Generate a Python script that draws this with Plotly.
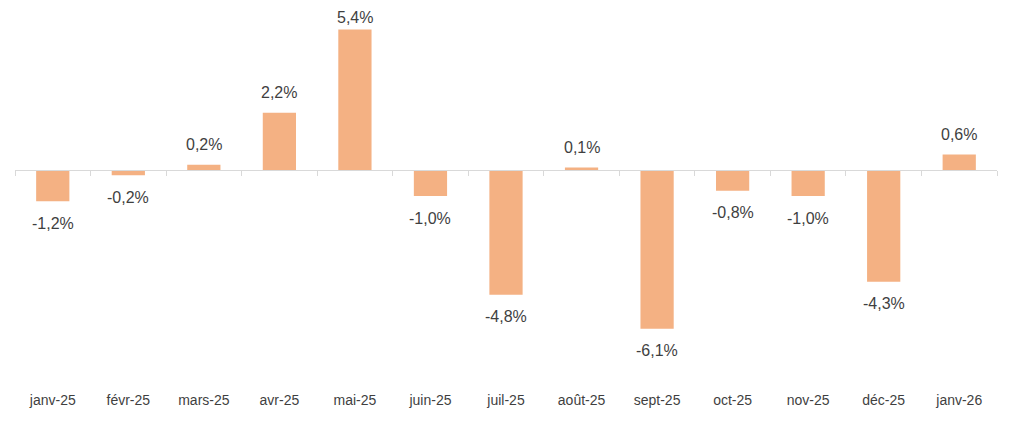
import plotly.graph_objects as go

months = ["janv-25", "févr-25", "mars-25", "avr-25", "mai-25", "juin-25", "juil-25",
          "août-25", "sept-25", "oct-25", "nov-25", "déc-25", "janv-26"]
values = [-1.2, -0.2, 0.2, 2.2, 5.4, -1.0, -4.8, 0.1, -6.1, -0.8, -1.0, -4.3, 0.6]
labels = [f"{v:.1f}%".replace(".", ",") for v in values]

BAR = "#F4B183"
TXT = "#3F3F3F"
FONT = "Liberation Sans, Arial, sans-serif"

ymin, ymax = -8.46, 5.77
H, T, B = 432, 12, 50
plot_h = H - T - B

fig = go.Figure()
fig.add_trace(go.Bar(x=months, y=values, marker_color=BAR, marker_line_width=0,
                     hoverinfo="skip"))
# invisible helper trace for the boundary-tick axis at zero
fig.add_trace(go.Scatter(x=months, y=[0] * len(months), xaxis="x2", mode="markers",
                         marker=dict(opacity=0), hoverinfo="skip", showlegend=False))

annotations = []
for m, v, t in zip(months, values, labels):
    if v >= 0:
        px_top = (ymax - v) / (ymax - ymin) * plot_h
        shift = min(20, px_top + T - 10)
    else:
        shift = -22
    annotations.append(dict(x=m, y=v, text=t, showarrow=False, yshift=shift,
                            yanchor="middle", xanchor="center", borderpad=0,
                            font=dict(size=16, color=TXT, family=FONT)))

zero_pos = (0 - ymin) / (ymax - ymin)

fig.update_layout(
    width=1024, height=H,
    margin=dict(l=7, r=35, t=T, b=B),
    paper_bgcolor="white", plot_bgcolor="white",
    showlegend=False,
    bargap=0.56,
    font=dict(family=FONT, color=TXT),
    annotations=annotations,
    xaxis=dict(type="category", categoryorder="array", categoryarray=months,
               range=[-0.5, len(months) - 0.5],
               showline=False, ticks="", showgrid=False, zeroline=False,
               tickfont=dict(size=14, color=TXT, family=FONT)),
    xaxis2=dict(type="category", categoryorder="array", categoryarray=months,
                overlaying="x", anchor="free", position=zero_pos, side="bottom",
                range=[-0.5, len(months) - 0.5],
                showline=True, linecolor="#D9D9D9", linewidth=1,
                ticks="outside", tickson="boundaries", ticklen=5, tickcolor="#D9D9D9",
                showticklabels=False, showgrid=False, zeroline=False),
    yaxis=dict(range=[ymin, ymax], visible=False, showgrid=False, zeroline=False),
)

fig.write_html("out.html")
